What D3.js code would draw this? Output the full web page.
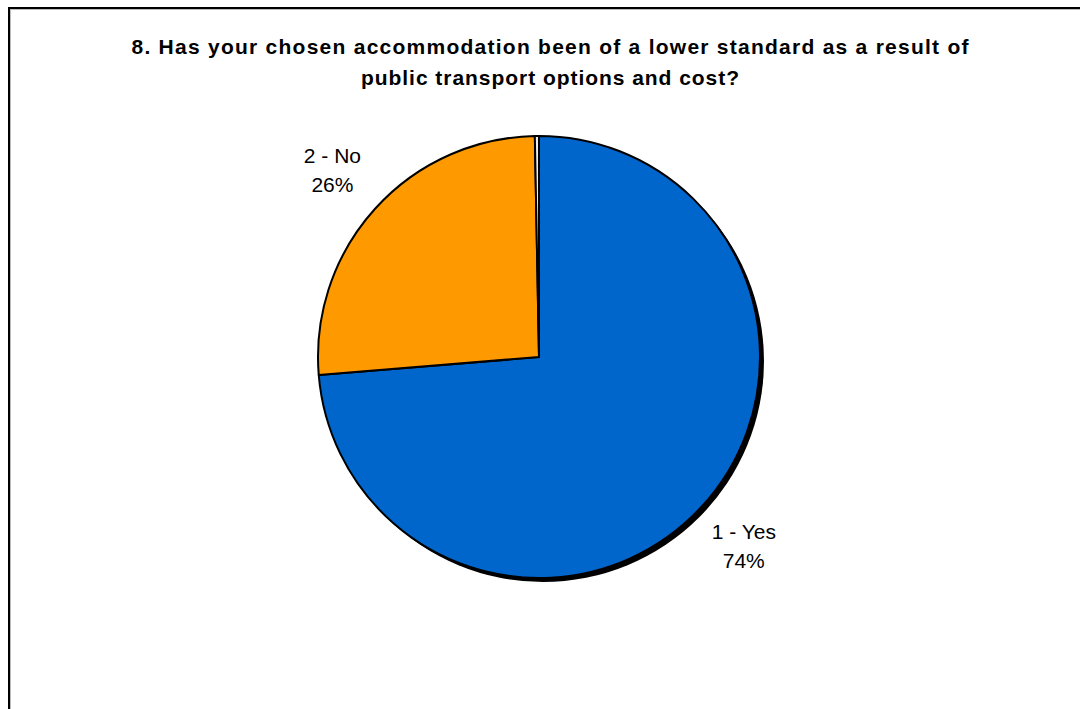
<!DOCTYPE html>
<html>
<head>
<meta charset="utf-8">
<script src="https://cdn.jsdelivr.net/npm/d3@7"></script>
<style>
  body { margin: 0; background: #fff; }
  svg { display: block; }
</style>
</head>
<body>
<div id="chart"></div>
<script>
// chart data
var categories = ["1 - Yes", "2 - No", "3"];
var values = [73.7, 26.0, 0.3];
var labelText = ["1 - Yes\n74%", "2 - No\n26%", ""];
var colors = ["#0066CC", "#FF9900", "#EEEEEE"];
var titleLines = ["8. Has your chosen accommodation been of a lower standard as a result of",
                  "public transport options and cost?"];
var titleWidths = [837, 378];

var width = 1080, height = 709;
var cx = 539, cy = 357, radius = 221;

var svg = d3.select("#chart").append("svg")
    .attr("width", width).attr("height", height);

// frame
svg.append("rect").attr("x", 10).attr("y", 9).attr("width", 1100).attr("height", 800)
    .attr("fill", "none").attr("stroke", "#bbb").attr("stroke-width", 2);
svg.append("rect").attr("x", 9).attr("y", 8).attr("width", 1100).attr("height", 800)
    .attr("fill", "none").attr("stroke", "#000").attr("stroke-width", 2);

// title
svg.append("g").selectAll("text")
    .data(titleLines)
    .enter().append("text")
    .attr("x", 550)
    .attr("y", function (d, i) { return 54 + i * 31; })
    .attr("text-anchor", "middle")
    .attr("font-family", "Liberation Sans, Arial, sans-serif")
    .attr("font-weight", "bold")
    .attr("font-size", "21px")
    .attr("textLength", function (d, i) { return titleWidths[i]; })
    .attr("lengthAdjust", "spacing")
    .attr("fill", "#000")
    .text(function (d) { return d; });

var rows = categories.map(function (c, i) {
    return {name: c, value: values[i], label: labelText[i], color: colors[i]};
});

var pie = d3.pie().sort(null).value(function (d) { return d.value; });
var arc = d3.arc().innerRadius(0).outerRadius(radius);
var arcs = pie(rows);

var g = svg.append("g").attr("transform", "translate(" + cx + "," + cy + ")");

// shadow
g.append("circle").attr("cx", 4).attr("cy", 4).attr("r", radius)
    .attr("fill", "#000");

g.selectAll(".slice")
    .data(arcs)
    .enter().append("path")
    .attr("class", "slice")
    .attr("d", arc)
    .attr("fill", function (d) { return d.data.color; })
    .attr("stroke", "#000")
    .attr("stroke-width", 2)
    .attr("stroke-linejoin", "round");

// labels
var labelArc = d3.arc().innerRadius(radius * 1.26).outerRadius(radius * 1.26);
var labels = g.selectAll(".lbl")
    .data(arcs.filter(function (d) { return d.data.label !== ""; }))
    .enter().append("text")
    .attr("class", "lbl")
    .attr("text-anchor", "middle")
    .attr("font-family", "Liberation Sans, Arial, sans-serif")
    .attr("font-size", "21px")
    .attr("fill", "#000")
    .attr("transform", function (d) {
        var c = labelArc.centroid(d);
        return "translate(" + c[0] + "," + c[1] + ")";
    });

labels.selectAll("tspan")
    .data(function (d) { return d.data.label.split("\n"); })
    .enter().append("tspan")
    .attr("x", 0)
    .attr("y", function (d, i) { return -7 + i * 29; })
    .text(function (d) { return d; });
</script>
</body>
</html>
